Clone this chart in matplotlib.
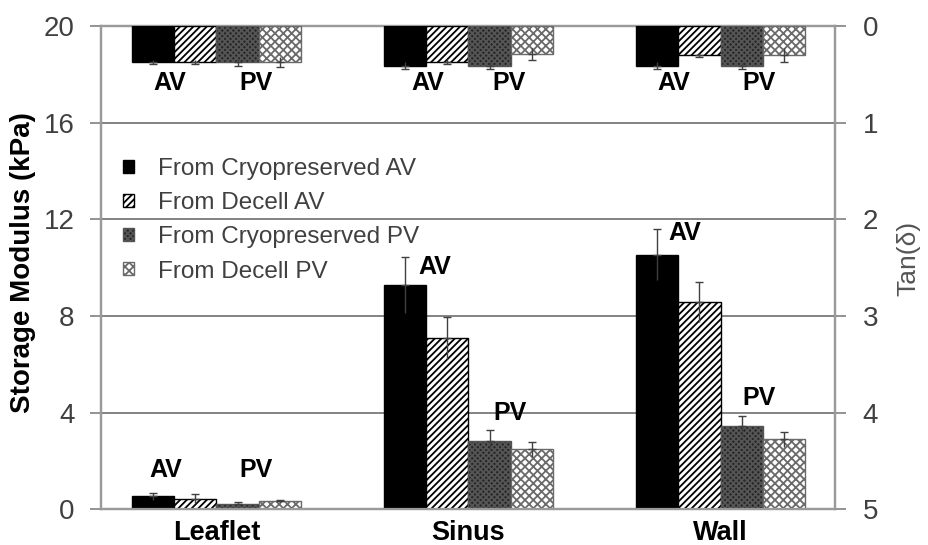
import numpy as np
import matplotlib.pyplot as plt
from matplotlib.patches import Patch

plt.rcParams['font.family'] = ['Liberation Sans', 'DejaVu Sans']
plt.rcParams['hatch.linewidth'] = 1.3

regions = ['Leaflet', 'Sinus', 'Wall']
series = ['From Cryopreserved AV', 'From Decell AV',
          'From Cryopreserved PV', 'From Decell PV']

# storage modulus (kPa), per series over Leaflet/Sinus/Wall
mod_cryo_av = [0.54, 9.28, 10.54]
mod_decell_av = [0.44, 7.10, 8.58]
mod_cryo_pv = [0.24, 2.84, 3.44]
mod_decell_pv = [0.35, 2.49, 2.89]
mod_err_cryo_av = [0.14, 1.16, 1.07]
mod_err_decell_av = [0.18, 0.87, 0.81]
mod_err_cryo_pv = [0.06, 0.44, 0.42]
mod_err_decell_pv = [0.03, 0.31, 0.30]

# tan(delta), drawn hanging from the top on the inverted right axis
tan_cryo_av = [0.37, 0.41, 0.41]
tan_decell_av = [0.37, 0.37, 0.30]
tan_cryo_pv = [0.37, 0.41, 0.41]
tan_decell_pv = [0.37, 0.29, 0.30]
tan_err_cryo_av = [0.02, 0.035, 0.04]
tan_err_decell_av = [0.02, 0.025, 0.025]
tan_err_cryo_pv = [0.04, 0.035, 0.03]
tan_err_decell_pv = [0.05, 0.06, 0.07]

mods = [mod_cryo_av, mod_decell_av, mod_cryo_pv, mod_decell_pv]
mod_errs = [mod_err_cryo_av, mod_err_decell_av, mod_err_cryo_pv, mod_err_decell_pv]
tans = [tan_cryo_av, tan_decell_av, tan_cryo_pv, tan_decell_pv]
tan_errs = [tan_err_cryo_av, tan_err_decell_av, tan_err_cryo_pv, tan_err_decell_pv]

styles = [
    dict(facecolor='black', edgecolor='black', hatch=None),
    dict(facecolor='white', edgecolor='black', hatch='/////'),
    dict(facecolor='#262626', edgecolor='#555555', hatch='xxxxxx'),
    dict(facecolor='white', edgecolor='#6a6a6a', hatch='xxxx'),
]

x = np.arange(len(regions))
w = 0.168
offs = (np.arange(4) - 1.5) * w
grey = '#404040'

fig = plt.figure(figsize=(9.29, 5.45), dpi=100)
ax = fig.add_axes([0.1087, 0.0655, 0.7901, 0.8868])
ax2 = ax.twinx()


def draw_bars(axis, vals, errs):
    for i in range(4):
        axis.bar(x + offs[i], vals[i], w, linewidth=1.0, zorder=3, **styles[i])
        e = np.array(errs[i])
        # cap only on the outer end, plain line back into the bar
        axis.errorbar(x + offs[i], vals[i], yerr=[np.zeros(3), e], fmt='none',
                      ecolor=grey, elinewidth=1.0, capsize=3, capthick=1.0, zorder=4)
        axis.errorbar(x + offs[i], vals[i], yerr=[e, np.zeros(3)], fmt='none',
                      ecolor=grey, elinewidth=1.0, capsize=0, zorder=4)


draw_bars(ax, mods, mod_errs)
draw_bars(ax2, tans, tan_errs)

ax.set_xlim(-0.458, 2.454)
ax.set_ylim(0, 20)
ax.set_yticks(np.arange(0, 21, 4))
ax2.set_ylim(5, 0)
ax2.set_yticks(np.arange(0, 6, 1))

ax.set_xticks(x)
ax.set_xticklabels(regions, fontsize=19.5, fontweight='bold')
ax.tick_params(axis='x', length=0, pad=8)
ax.tick_params(axis='y', length=8, width=1.2, color='#808080', pad=11,
               labelsize=20, labelcolor=grey)
ax2.tick_params(axis='y', length=8, width=1.2, color='#808080', pad=12,
                labelsize=20, labelcolor=grey)

ax.yaxis.grid(True, color='#6e6e6e', linewidth=1.2)
ax.set_axisbelow(True)
for a in (ax, ax2):
    for s in a.spines.values():
        s.set_color('#9a9a9a')
        s.set_linewidth(1.6)

# AV / PV tags on the lower bars
lab_mod = [(-0.20, 1.62, 'AV'), (0.157, 1.62, 'PV'),
           (1 - 0.132, 10.02, 'AV'), (1 + 0.166, 3.98, 'PV'),
           (2 - 0.144, 11.42, 'AV'), (2 + 0.154, 4.6, 'PV')]
for lx, ly, s in lab_mod:
    ax.text(lx, ly, s, fontsize=18, fontweight='bold', ha='center', va='center', zorder=5)

# and on the hanging tan(delta) bars
lab_tan = [(-0.185, 'AV'), (0.157, 'PV'), (1 - 0.162, 'AV'), (1 + 0.162, 'PV'),
           (2 - 0.184, 'AV'), (2 + 0.154, 'PV')]
for lx, s in lab_tan:
    ax2.text(lx, 0.585, s, fontsize=18, fontweight='bold', ha='center', va='center', zorder=5)

handles = [Patch(linewidth=1.0, **st) for st in styles]
ax.legend(handles, series, loc='upper left', bbox_to_anchor=(0.0, 0.772),
          frameon=False, fontsize=17.5, labelcolor=grey, handlelength=0.45,
          handleheight=0.45, handletextpad=1.0, labelspacing=0.5)

fig.text(23 / 929, 1 - 263 / 545, 'Storage Modulus (kPa)', rotation=90,
         fontsize=20, fontweight='bold', ha='center', va='center')
fig.text(908 / 929, 1 - 258 / 545, 'Tan(δ)', rotation=90, fontsize=19,
         color='#555555', ha='center', va='center')

fig.savefig('out.png', dpi=100)
